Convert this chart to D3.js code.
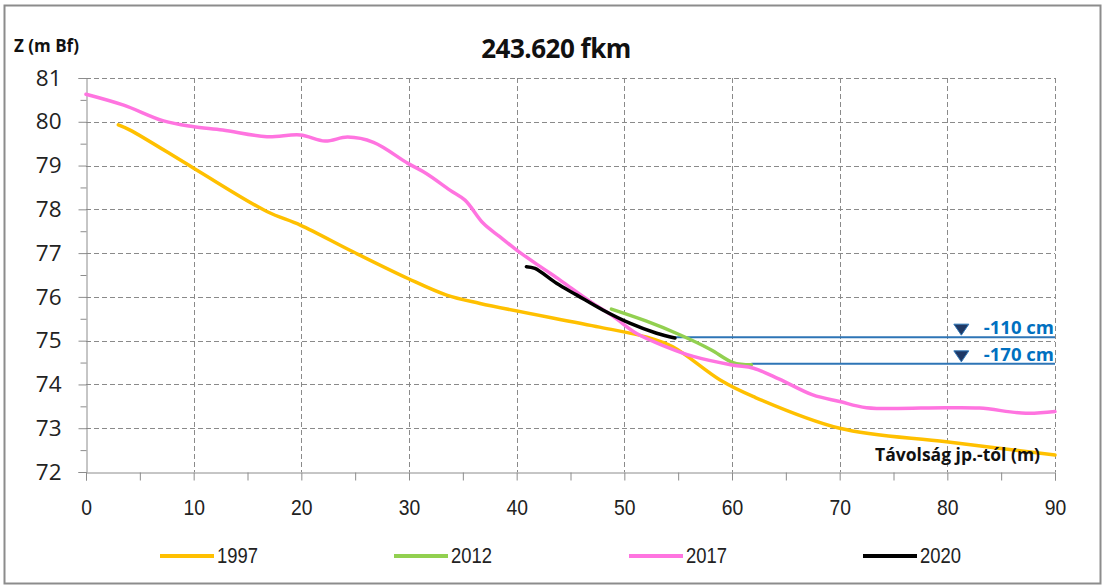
<!DOCTYPE html>
<html>
<head>
<meta charset="utf-8">
<script src="https://cdn.jsdelivr.net/npm/d3@7"></script>
<style>
  html, body { margin: 0; padding: 0; background: #fff; }
  svg { display: block; }
</style>
</head>
<body>
<svg id="chart" width="1105" height="588"></svg>
<script>
// Cross-section profile at 243.620 fkm: elevation (m Bf) vs distance from right bank (m)
const years = ["1997", "2012", "2017", "2020"];
const colors = ["#FFC000", "#92D050", "#FF74E0", "#000000"];

const dist1997 = [3.0, 4.1, 10.0, 16.8, 19.9, 24.8, 29.9, 33.5, 36.6, 47.7, 52.1, 54.5, 58.9, 62.0, 70.0, 79.9, 90.0];
const z1997    = [79.93, 79.81, 78.94, 77.95, 77.64, 77.03, 76.42, 76.04, 75.85, 75.31, 75.08, 74.86, 74.10, 73.72, 73.00, 72.69, 72.39];

const dist2012 = [48.8, 52.0, 55.2, 58.0, 60.1, 61.8];
const z2012    = [75.72, 75.45, 75.13, 74.80, 74.50, 74.45];

const dist2017 = [0, 3.5, 7.2, 9.9, 12.7, 16.8, 19.9, 22.2, 24.3, 26.7, 29.9, 31.6, 33.8, 35.2, 36.9, 38.4, 40.0, 42.2, 44.0, 44.9, 47.1, 49.0, 51.1, 53.9, 56.4, 60.1, 62.0, 64.4, 67.5, 70.0, 72.5, 79.9, 83.0, 87.3, 90.0];
const z2017    = [80.63, 80.38, 80.02, 79.89, 79.81, 79.66, 79.70, 79.56, 79.65, 79.53, 79.05, 78.82, 78.44, 78.21, 77.68, 77.38, 77.07, 76.69, 76.39, 76.23, 75.85, 75.55, 75.17, 74.86, 74.64, 74.44, 74.37, 74.12, 73.76, 73.61, 73.47, 73.47, 73.46, 73.34, 73.38];

const dist2020 = [40.9, 41.7, 43.7, 45.6, 48.0, 50.5, 53.0, 54.7];
const z2020    = [76.69, 76.65, 76.31, 76.04, 75.70, 75.40, 75.17, 75.06];

// Water levels (drawn from the profile edge to the right end of the section)
const levelNames = ["-110 cm", "-170 cm"];
const levelZ     = [75.08, 74.47];
const levelStart = [54.7, 61.8];

const xTicks = [0, 10, 20, 30, 40, 50, 60, 70, 80, 90];
const yTicks = [72, 73, 74, 75, 76, 77, 78, 79, 80, 81];

const svg = d3.select("#chart");
const x = d3.scaleLinear().domain([0, 90]).range([86, 1055]);
const y = d3.scaleLinear().domain([72, 81]).range([472, 78]);

// outer frame
svg.append("rect")
  .attr("x", 4.5).attr("y", 5.5).attr("width", 1096).attr("height", 578)
  .attr("fill", "#fff").attr("stroke", "#8c8c8c").attr("stroke-width", 2);

// grid
const grid = svg.append("g").attr("stroke", "#8a8a8a").attr("stroke-width", 1).attr("stroke-dasharray", "5,3");
grid.selectAll("line.v").data(xTicks.slice(1)).join("line")
  .attr("x1", d => Math.round(x(d)) + 0.5).attr("x2", d => Math.round(x(d)) + 0.5)
  .attr("y1", y(81)).attr("y2", y(72));
grid.selectAll("line.h").data(yTicks.slice(1)).join("line")
  .attr("y1", d => Math.round(y(d)) + 0.5).attr("y2", d => Math.round(y(d)) + 0.5)
  .attr("x1", x(0)).attr("x2", x(90));

// axes
const xAxis = d3.axisBottom(x).tickValues(d3.range(0, 91, 5)).tickSize(8).tickFormat(d => d % 10 === 0 ? d : "");
const gx = svg.append("g").attr("transform", `translate(0,${Math.round(y(72)) + 0.5})`).call(xAxis);
gx.select(".domain").attr("stroke", "#8c8c8c");
gx.selectAll(".tick line").attr("stroke", "#8c8c8c");
gx.selectAll(".tick text")
  .attr("y", 24).attr("dy", "0.71em")
  .attr("font-family", "'Liberation Sans Narrow', 'Arial Narrow', sans-serif")
  .attr("font-size", 21).attr("fill", "#222")
  .attr("transform", "scale(0.92,1.08)");

const yAxis = d3.axisLeft(y).tickValues(d3.range(72, 81.01, 0.5)).tickSize(8).tickFormat(d => Number.isInteger(d) ? d : "");
const gy = svg.append("g").attr("transform", `translate(${Math.round(x(0)) + 0.5},0)`).call(yAxis);
gy.select(".domain").attr("stroke", "#8c8c8c");
gy.selectAll(".tick line").attr("stroke", "#8c8c8c").attr("x2", d => Number.isInteger(d) ? -8 : -6);
gy.selectAll(".tick text")
  .attr("x", -25)
  .attr("font-family", "'Open Sans', 'DejaVu Sans', sans-serif")
  .attr("font-size", 22.5).attr("fill", "#222");

// water level lines and markers
levelZ.forEach((lz, i) => {
  svg.append("line")
    .attr("x1", x(levelStart[i])).attr("x2", x(90))
    .attr("y1", y(lz)).attr("y2", y(lz))
    .attr("stroke", "#2E75B6").attr("stroke-width", 2);
  const tx = x(81.3), ty = y(lz) - 7;
  svg.append("path")
    .attr("d", `M${tx - 7.5},${ty - 6} L${tx + 7.5},${ty - 6} L${tx},${ty + 5} Z`)
    .attr("fill", "#1F3864").attr("stroke", "#2E75B6").attr("stroke-width", 1);
  svg.append("text")
    .attr("x", x(90) - 1).attr("y", y(lz) - 3)
    .attr("text-anchor", "end")
    .attr("font-family", "'Open Sans', 'DejaVu Sans', sans-serif")
    .attr("font-weight", "bold").attr("font-size", 18.5)
    .attr("fill", "#0070C0")
    .text(levelNames[i]);
});

// profiles
const series = [
  { xs: dist1997, zs: z1997 },
  { xs: dist2012, zs: z2012 },
  { xs: dist2017, zs: z2017 },
  { xs: dist2020, zs: z2020 }
];
const line = d3.line().x(d => x(d[0])).y(d => y(d[1])).curve(d3.curveCatmullRom.alpha(0.5));
series.forEach((s, i) => {
  svg.append("path")
    .datum(s.xs.map((v, k) => [v, s.zs[k]]))
    .attr("d", line)
    .attr("fill", "none")
    .attr("stroke", colors[i])
    .attr("stroke-width", 3.5)
    .attr("stroke-linejoin", "round")
    .attr("stroke-linecap", "round");
});

// titles
svg.append("text")
  .attr("x", 556).attr("y", 58).attr("text-anchor", "middle")
  .attr("font-family", "'Open Sans', 'DejaVu Sans', sans-serif")
  .attr("font-weight", "bold").attr("font-size", 26).attr("fill", "#111")
  .attr("letter-spacing", -0.5)
  .text("243.620 fkm");

svg.append("text")
  .attr("x", 14).attr("y", 52)
  .attr("font-family", "'Open Sans', 'DejaVu Sans', sans-serif")
  .attr("font-weight", "bold").attr("font-size", 17).attr("fill", "#111")
  .text("Z (m Bf)");

svg.append("text")
  .attr("x", 1040).attr("y", 461).attr("text-anchor", "end")
  .attr("font-family", "'Open Sans', 'DejaVu Sans', sans-serif")
  .attr("font-weight", "bold").attr("font-size", 17.5).attr("fill", "#111")
  .text("Távolság jp.-tól (m)");

// legend
const legendX = [160, 394, 629, 863];
const lg = svg.append("g");
years.forEach((yr, i) => {
  lg.append("line")
    .attr("x1", legendX[i]).attr("x2", legendX[i] + 54)
    .attr("y1", 556).attr("y2", 556)
    .attr("stroke", colors[i]).attr("stroke-width", 4);
  lg.append("text")
    .attr("x", (legendX[i] + 57) / 0.92).attr("y", 563 / 1.08)
    .attr("transform", "scale(0.92,1.08)")
    .attr("font-family", "'Liberation Sans Narrow', 'Arial Narrow', sans-serif")
    .attr("font-size", 20).attr("fill", "#222")
    .text(yr);
});
</script>
</body>
</html>
